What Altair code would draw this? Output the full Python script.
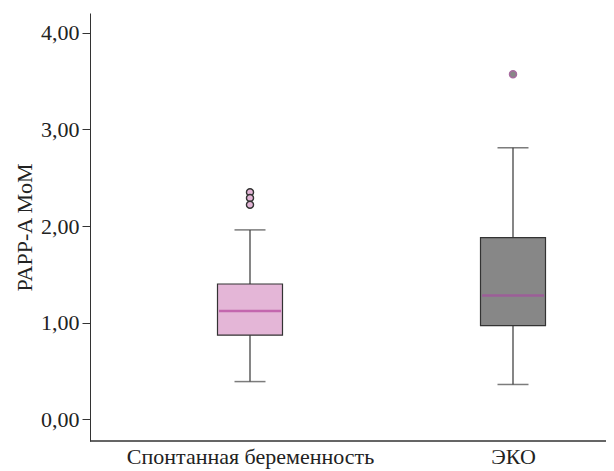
import altair as alt
import pandas as pd

groups = ["Спонтанная беременность", "ЭКО"]
low = [0.39, 0.36]
q1 = [0.87, 0.97]
median = [1.12, 1.28]
q3 = [1.40, 1.88]
high = [1.96, 2.81]
fills = ["#E4B6D7", "#878787"]
median_colors = ["#B5469D", "#A54D9F"]

out_groups = ["Спонтанная беременность", "Спонтанная беременность", "Спонтанная беременность", "ЭКО"]
out_values = [2.35, 2.29, 2.22, 3.57]

box_df = pd.DataFrame({"group": groups, "low": low, "q1": q1, "median": median,
                       "q3": q3, "high": high})
out_df = pd.DataFrame({"group": out_groups, "value": out_values})

W, H = 516, 428
FONT = "Liberation Serif"

xs = alt.Scale(type="point", domain=groups, range=[160, 423], padding=0)
ys = alt.Scale(domain=[-0.225, 4.205], nice=False, zero=False)

x_enc = alt.X("group:N", scale=xs, sort=groups,
              axis=alt.Axis(title=None, labelAngle=0, ticks=False, domain=False,
                            labelPadding=5, labelLimit=400))

y_axis = alt.Axis(title="PAPP-A MoM", values=[0, 1, 2, 3, 4],
                  labelExpr="replace(format(datum.value, '.2f'), '.', ',')",
                  grid=False, tickSize=8, labelPadding=3, titlePadding=4)

base = alt.Chart(box_df)

whisk = base.mark_rule(color="#444", strokeWidth=1.3).encode(
    x=x_enc, y=alt.Y("low:Q", scale=ys, axis=y_axis), y2="high:Q")

caps_low = base.mark_tick(color="#444", size=31, thickness=1.5).encode(
    x=x_enc, y=alt.Y("low:Q", scale=ys, axis=y_axis))
caps_high = base.mark_tick(color="#444", size=31, thickness=1.5).encode(
    x=x_enc, y=alt.Y("high:Q", scale=ys, axis=y_axis))

box = base.mark_bar(size=65, stroke="#333", strokeWidth=1.2).encode(
    x=x_enc, y=alt.Y("q1:Q", scale=ys, axis=y_axis), y2="q3:Q",
    fill=alt.Fill("group:N", scale=alt.Scale(domain=groups, range=fills), legend=None))

med = base.mark_tick(size=62, thickness=2.5).encode(
    x=x_enc, y=alt.Y("median:Q", scale=ys, axis=y_axis),
    color=alt.Color("group:N", scale=alt.Scale(domain=groups, range=median_colors), legend=None))

pts = alt.Chart(out_df).mark_point(filled=False, size=50, strokeWidth=1.4, opacity=1).encode(
    x=x_enc, y=alt.Y("value:Q", scale=ys, axis=y_axis),
    fill=alt.Fill("group:N", scale=alt.Scale(domain=groups, range=fills), legend=None),
    stroke=alt.Stroke("group:N", scale=alt.Scale(domain=groups, range=["#333333", "#A86BA0"]), legend=None),
    shape=alt.value("circle"))

xline = base.mark_rule(color="#333", strokeWidth=1).encode(
    x=alt.value(0), x2=alt.value(W + 10), y=alt.value(H))

chart = alt.layer(whisk, caps_low, caps_high, box, med, pts, xline).properties(
    width=W, height=H,
    autosize=alt.AutoSizeParams(type="none"),
    padding={"left": 82, "top": 5, "right": 0, "bottom": 30},
).configure(background="white").configure_view(stroke=None).configure_axis(
    labelFont=FONT, labelFontSize=22, labelColor="#222",
    titleFont=FONT, titleFontSize=22, titleFontWeight="normal", titleColor="#222",
    tickColor="#333", domainColor="#333")

chart.save("out.html", embed_options={"renderer": "svg", "actions": False})
